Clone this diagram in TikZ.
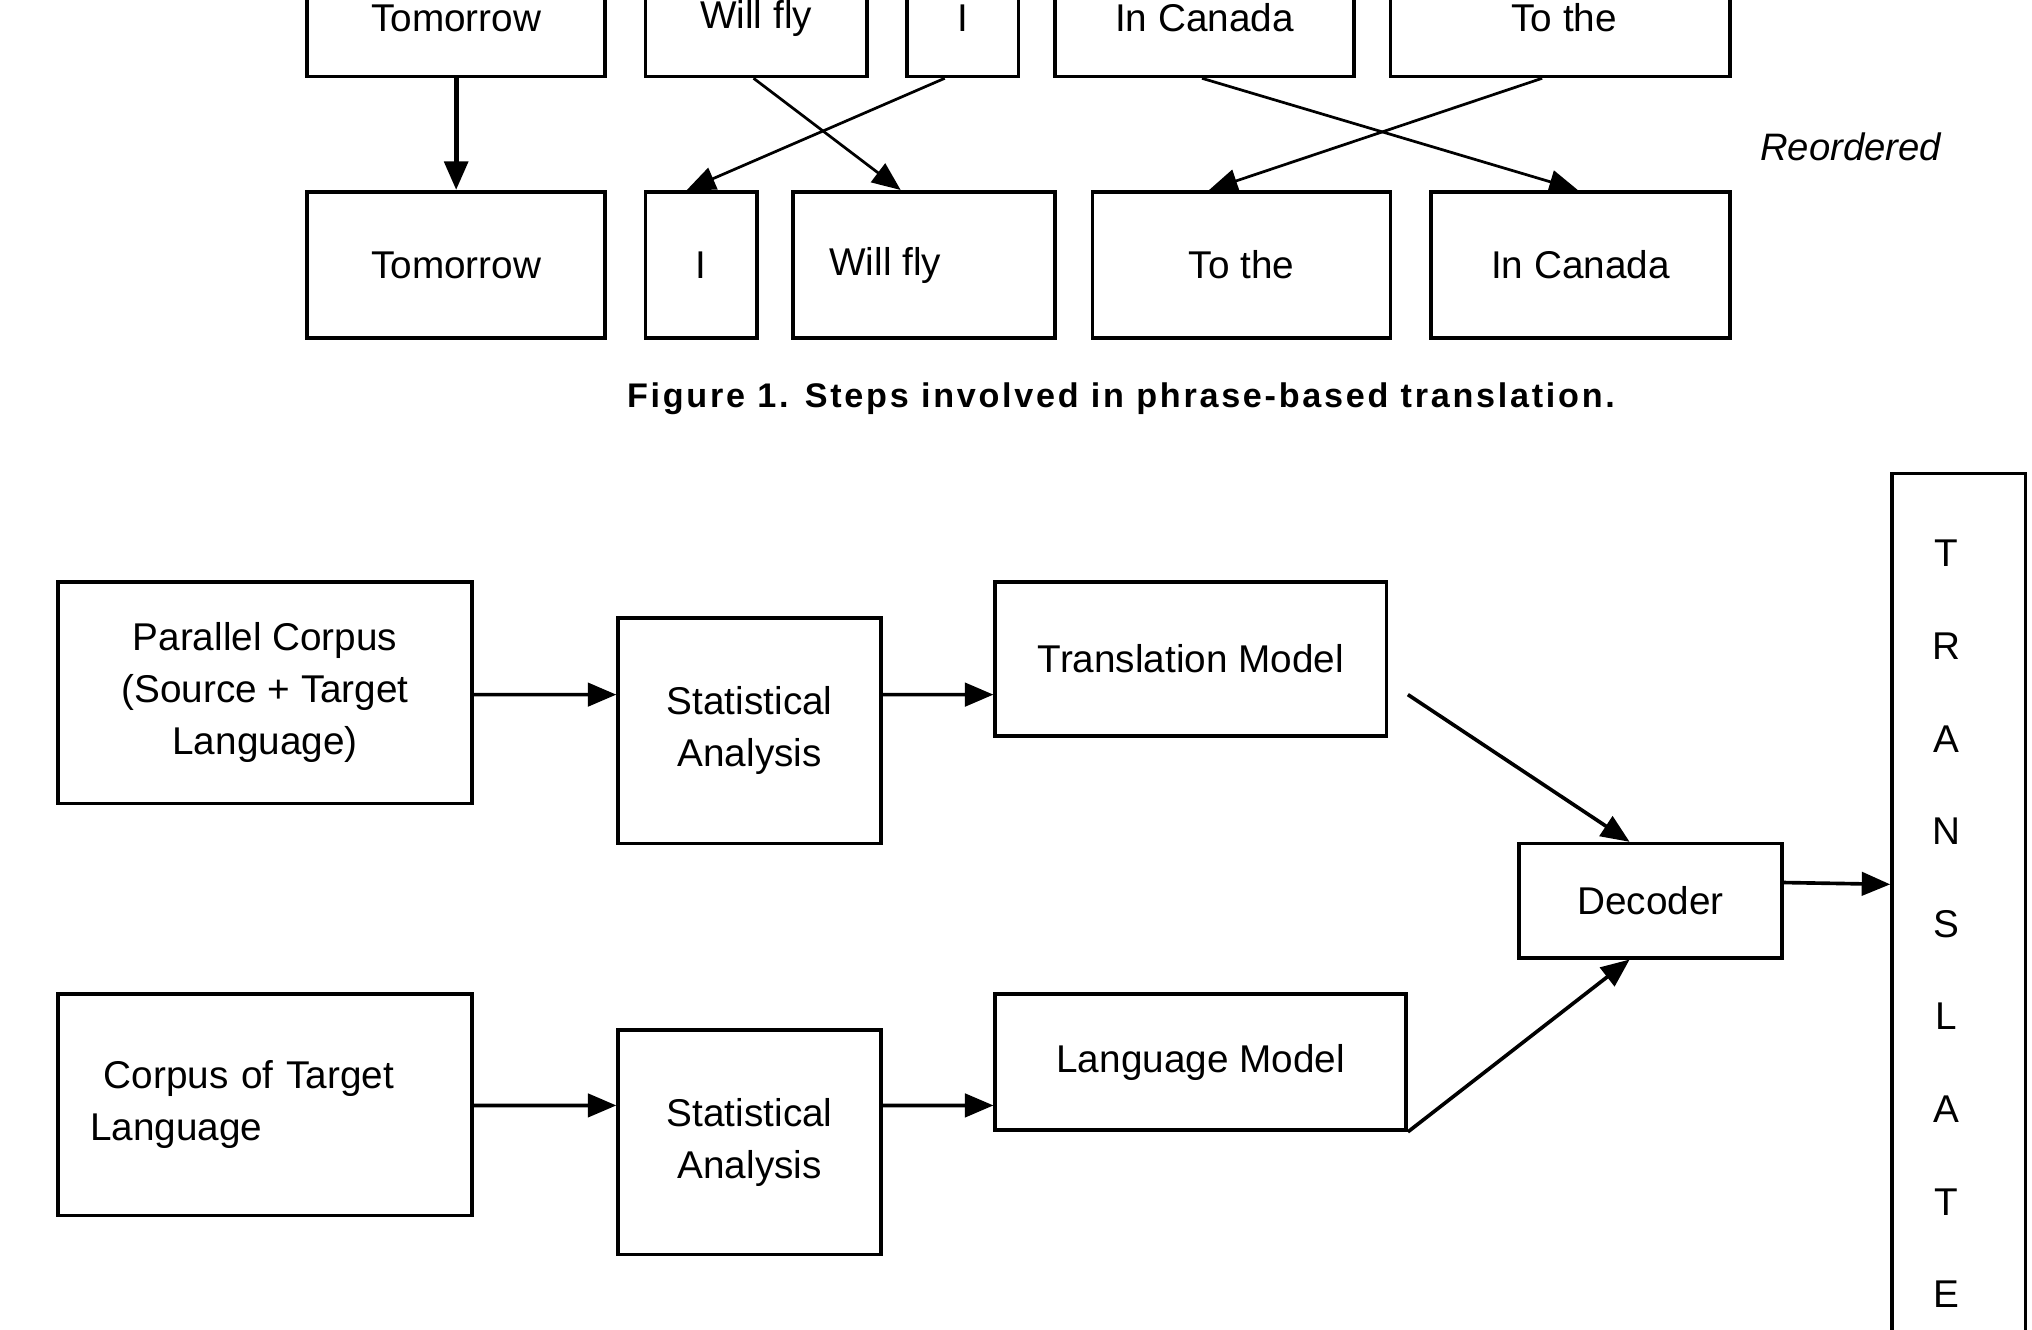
\documentclass[tikz,border=0pt]{standalone}
\usepackage{fontspec}
\setmainfont{Liberation Sans}
\usetikzlibrary{arrows.meta, positioning, calc}
\tikzset{
	box/.style={rectangle, draw, line width=0.8pt, inner sep=0pt, align=center, font=\fontsize{8.5}{11.4}\selectfont},
	word/.style={font=\fontsize{8.5}{11.4}\selectfont},
	line/.style={draw, line width=0.8pt, -{Triangle[length=2.2mm, width=1.8mm]}}
}
\begin{document}
\begin{tikzpicture}[x=0.1mm, y=-0.1mm]
	\useasboundingbox (0,0) rectangle (1568,1026);
	\clip (0,0) rectangle (1568,1026);
	
	% Original phrase order (top row, cut at the page edge)
	\node[box, minimum width=23mm, minimum height=15.9mm] (top_tomorrow) at (352,-20.5) {};
	\node[box, minimum width=17.1mm, minimum height=15.9mm] (top_willfly) at (583.5,-20.5) {};
	\node[box, minimum width=8.6mm, minimum height=15.9mm] (top_i) at (743,-20.5) {};
	\node[box, minimum width=23.1mm, minimum height=15.9mm] (top_canada) at (929.5,-20.5) {};
	\node[box, minimum width=26.2mm, minimum height=15.9mm] (top_tothe) at (1204,-20.5) {};
	\node[word] (top_tomorrow_text) at (352,14) {Tomorrow};
	\node[word] (top_willfly_text) at (583.5,14) {Will fly};
	\node[word] (top_i_text) at (743,14) {I};
	\node[word] (top_canada_text) at (929.5,14) {In Canada};
	\node[word] (top_tothe_text) at (1207,14) {To the};
	
	% Reordered phrases (second row)
	\node[box, minimum width=23mm, minimum height=11.3mm] (tomorrow) at (352,204.5) {\raisebox{-6pt}{Tomorrow}};
	\node[box, minimum width=8.6mm, minimum height=11.3mm] (i) at (541,204.5) {\raisebox{-6pt}{I}};
	\node[box, minimum width=20.2mm, minimum height=11.3mm] (willfly) at (713,204.5) {\raisebox{-6pt}{Will fly}\hspace*{17pt}};
	\node[box, minimum width=23mm, minimum height=11.3mm] (tothe) at (958,204.5) {\raisebox{-6pt}{To the}};
	\node[box, minimum width=23.1mm, minimum height=11.3mm] (canada) at (1219.5,204.5) {\raisebox{-6pt}{In Canada}};
	
	\node[font=\fontsize{8.4}{10}\selectfont\itshape] (reordered) at (1428,113) {Reordered};
	
	% Reordering arrows
	\draw[line, line width=1.1pt] (top_tomorrow.south) -- (tomorrow.north);
	\draw[line, line width=0.6pt] ($(top_willfly.south)+(-2,0)$) -- ($(willfly.north)+(-18,0)$);
	\draw[line, line width=0.6pt] ($(top_i.south)+(-14,0)$) -- ($(i.north)+(-11,0)$);
	\draw[line, line width=0.6pt] ($(top_canada.south)+(-2,0)$) -- ($(canada.north)+(-2,0)$);
	\draw[line, line width=0.6pt] ($(top_tothe.south)+(-14,0)$) -- ($(tothe.north)+(-25,0)$);
	
	\node[font=\fontsize{7.5}{9}\selectfont\bfseries\addfontfeature{LetterSpace=8}] (caption) at (865,308) {Figure 1. Steps involved in phrase-based translation.};
	
	% Statistical translation pipeline
	\node[box, minimum width=31.9mm, minimum height=17.1mm] (parallel) at (204.5,534.5) {Parallel Corpus\\(Source + Target\\Language)};
	\node[box, minimum width=20.3mm, minimum height=17.4mm] (stat_1) at (578.5,564) {Statistical\\Analysis};
	\node[box, minimum width=30.2mm, minimum height=11.9mm] (translation) at (919,508.5) {Translation Model};
	\node[box, minimum width=31.9mm, minimum height=17.1mm, text width=27mm, align=left] (target) at (204.5,852.5) {\hspace*{3pt}Corpus of Target\\Language};
	\node[box, minimum width=20.3mm, minimum height=17.3mm] (stat_2) at (578.5,881.5) {Statistical\\Analysis};
	\node[box, minimum width=31.7mm, minimum height=10.5mm] (language) at (926.5,819.5) {Language Model};
	\node[box, minimum width=20.3mm, minimum height=8.8mm] (decoder) at (1273.5,695) {Decoder};
	\node[box, minimum width=10.3mm, minimum height=76mm, anchor=north] (translate) at (1511.5,364) {};
	
	% letters of the output column
	\foreach \letter [count=\k from 0] in {T,R,A,N,S,L,A,T,E}
		\node[word] (letter_\k) at (1502,427+71.5*\k) {\letter};
	
	% pipeline arrows
	\draw[line] ($(parallel.east)+(0,1.5)$) -- ($(stat_1.west)+(0,-28)$);
	\draw[line] ($(stat_1.east)+(0,-28)$) -- ($(translation.west)+(0,27.5)$);
	\draw[line] ($(target.east)+(0,0.5)$) -- ($(stat_2.west)+(0,-28.5)$);
	\draw[line] ($(stat_2.east)+(0,-28.5)$) -- ($(language.west)+(0,33.5)$);
	\draw[line] ($(translation.east)+(15,27.5)$) -- ($(decoder.north)+(-16,0)$);
	\draw[line] (language.south east) -- ($(decoder.south)+(-16,0)$);
	\draw[line] ($(decoder.east)+(0,-14)$) -- ($(translate.west)+(0,-63)$);
	
\end{tikzpicture}
\end{document}
